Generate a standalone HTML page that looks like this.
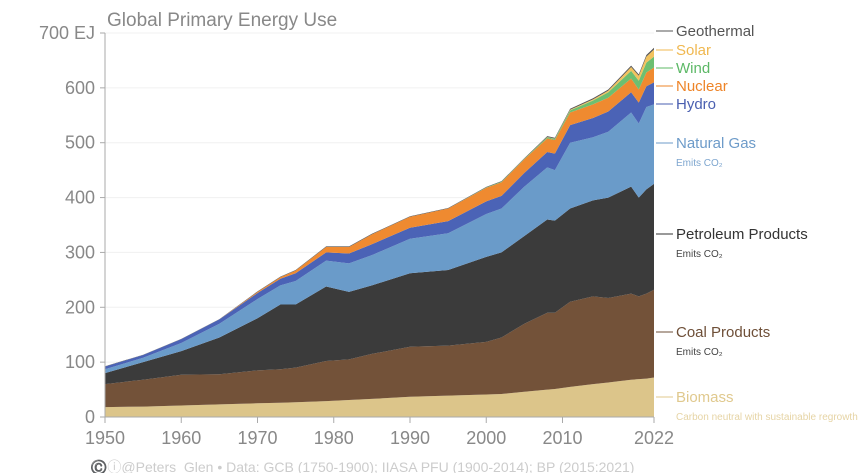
<!DOCTYPE html>
<html><head><meta charset="utf-8"><style>
body{margin:0;background:#fff;}
svg{display:block;font-family:"Liberation Sans",sans-serif;}
</style></head><body>
<svg id="chart" width="864" height="473" viewBox="0 0 864 473">
<text x="107" y="26" font-size="19" fill="#888">Global Primary Energy Use</text>
<g id="grid"></g><g id="areas"></g><g id="axes"></g><g id="legend"></g>
<text x="90" y="472" font-size="14" fill="#ccc">©️ⓘ@Peters_Glen  •  Data: GCB (1750-1900); IIASA PFU (1900-2014); BP (2015:2021)</text>
</svg>
<script>
const years=[1950,1955,1960,1965,1970,1973,1975,1979,1982,1985,1990,1995,2000,2002,2005,2008,2009,2011,2014,2016,2019,2020,2021,2022];
const biomass=[18,19,21,23,25,26,27,29,31,33,37,39,41,42,46,50,51,55,60,63,68,69,70,72];
const coal=[42,49,56,55,60,61,63,73,74,82,91,91,96,103,124,140,139,155,160,154,157,151,155,160];
const petroleum=[20,32,43,67,95,118,115,136,123,125,134,138,155,155,160,170,168,170,175,183,195,180,190,193];
const gas=[7,8,15,25,35,35,43,47,52,55,63,67,78,80,90,95,92,120,115,120,135,135,150,145];
const hydro=[5,5,7,8,11,12,14,15,18,20,20,22,23,23,25,28,30,32,35,37,37,38,38,40];
const nuclear=[0,0,0,0,2,3,5,10,12,18,20,23,25,25,25,25,25,23,25,25,25,24,25,27];
const wind=[0,0,0,0,0,0,0,0,0,0,0,0,0.5,1,1,2,2,4,7,10,14,16,18,20];
const solar=[0,0,0,0,0,0,0,0,0,0,0,0,0,0,0,0.5,0.5,1,2,3,7,9,11,13];
const geothermal=[0.5,0.5,0.5,0.5,1,1,1,1,1,1,1,1,1,1,1,1.5,1.5,2,2,2,2.5,2.5,3,3];
const yTicks=[0,100,200,300,400,500,600,700];
const xTicks=[1950,1960,1970,1980,1990,2000,2010,2022];
const NS="http://www.w3.org/2000/svg";
const X=y=>105+(y-1950)*(549/72);
const Y=v=>417-v*(384/700);
function mk(t,a,p){const e=document.createElementNS(NS,t);for(const k in a)e.setAttribute(k,a[k]);(p||document.getElementById('chart')).appendChild(e);return e;}
const grid=document.getElementById('grid'),axes=document.getElementById('axes'),areas=document.getElementById('areas'),legend=document.getElementById('legend');
yTicks.forEach(v=>{
 const l=mk('line',{x1:105,x2:654,y1:Y(v),y2:Y(v),stroke:'#f0f0f0'},grid);
 
 
 const tk=mk('line',{x1:100,x2:105,y1:Y(v),y2:Y(v),stroke:'#aaa'},axes);
 
 
 const t=mk('text',{x:95,y:Y(v)+6,'text-anchor':'end','font-size':18,fill:'#888'},axes);
 t.textContent=v===700?'700 EJ':String(v);
 
 
});
const ax=mk('line',{x1:105,x2:105,y1:33,y2:417,stroke:'#aaa'},axes);


const bx=mk('line',{x1:105,x2:654,y1:417,y2:417,stroke:'#aaa'},axes);


xTicks.forEach(v=>{
 const tk=mk('line',{x1:X(v),x2:X(v),y1:417,y2:423,stroke:'#aaa'},axes);
 
 
 const t=mk('text',{x:X(v),y:444,'text-anchor':'middle','font-size':18,fill:'#888'},axes);
 t.textContent=String(v);
 
 
});
const layers=[
 {n:'biomass',d:biomass,c:'#dcc58a'},
 {n:'coal',d:coal,c:'#735239'},
 {n:'petroleum',d:petroleum,c:'#3b3b3b'},
 {n:'gas',d:gas,c:'#6a9bc9'},
 {n:'hydro',d:hydro,c:'#4b63b6'},
 {n:'nuclear',d:nuclear,c:'#ef8a30'},
 {n:'wind',d:wind,c:'#6dbf70'},
 {n:'solar',d:solar,c:'#f2c25e'},
 {n:'geothermal',d:geothermal,c:'#555'}
];
let base=years.map(()=>0);
layers.forEach(L=>{
 const top=base.map((b,i)=>b+L.d[i]);
 let p='M'+years.map((y,i)=>X(y)+','+Y(top[i])).join('L');
 for(let i=years.length-1;i>=0;i--)p+='L'+X(years[i])+','+Y(base[i]);
 const e=mk('path',{d:p+'Z',fill:L.c},areas);
 
 
 base=top;
});
const leg=[
 ['Geothermal',null,36,'#555'],['Solar',null,55,'#f0b850'],['Wind',null,73,'#5cb866'],
 ['Nuclear',null,91,'#ee8428'],['Hydro',null,109,'#4a5fb0'],
 ['Natural Gas','Emits CO₂',148,'#6d9bc9'],['Petroleum Products','Emits CO₂',239,'#333'],
 ['Coal Products','Emits CO₂',337,'#6e4f38'],['Biomass','Carbon neutral with sustainable regrowth',402,'#e0c98e']
];
leg.forEach(a=>{
 const ln=mk('line',{x1:656,x2:673,y1:a[2]-5,y2:a[2]-5,stroke:a[3],'stroke-width':1},legend);
 
 
 const t=mk('text',{x:676,y:a[2],'font-size':15,fill:a[3]},legend);
 t.textContent=a[0];
 
 
 if(a[1]){const s=mk('text',{x:676,y:a[2]+18,'font-size':10,fill:a[0]==='Natural Gas'?'#7ea6cf':(a[0]==='Biomass'?'#e6d4a5':'#444')},legend);
 s.textContent=a[1];
 
 }
});
</script>
</body></html>
